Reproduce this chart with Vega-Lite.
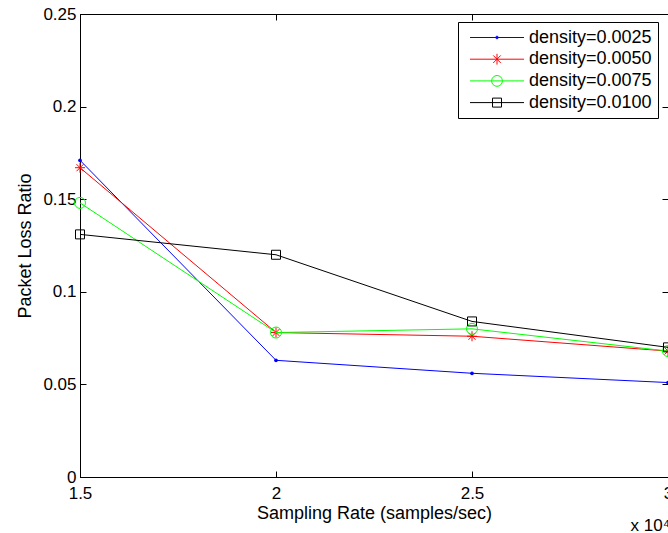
{
  "$schema": "https://vega.github.io/schema/vega-lite/v6.json",
  "width": 588,
  "height": 463,
  "autosize": {"type": "none"},
  "padding": {"left": 80, "top": 14, "right": 0, "bottom": 56},
  "background": "white",
  "data": {
    "values": [
      {"rate": 1.5, "ratio": 0.171, "series": "density=0.0025"},
      {"rate": 2.0, "ratio": 0.063, "series": "density=0.0025"},
      {"rate": 2.5, "ratio": 0.056, "series": "density=0.0025"},
      {"rate": 3.0, "ratio": 0.051, "series": "density=0.0025"},
      {"rate": 1.5, "ratio": 0.167, "series": "density=0.0050"},
      {"rate": 2.0, "ratio": 0.078, "series": "density=0.0050"},
      {"rate": 2.5, "ratio": 0.076, "series": "density=0.0050"},
      {"rate": 3.0, "ratio": 0.068, "series": "density=0.0050"},
      {"rate": 1.5, "ratio": 0.148, "series": "density=0.0075"},
      {"rate": 2.0, "ratio": 0.078, "series": "density=0.0075"},
      {"rate": 2.5, "ratio": 0.080, "series": "density=0.0075"},
      {"rate": 3.0, "ratio": 0.068, "series": "density=0.0075"},
      {"rate": 1.5, "ratio": 0.131, "series": "density=0.0100"},
      {"rate": 2.0, "ratio": 0.120, "series": "density=0.0100"},
      {"rate": 2.5, "ratio": 0.084, "series": "density=0.0100"},
      {"rate": 3.0, "ratio": 0.070, "series": "density=0.0100"}
    ]
  },
  "layer": [
    {
      "transform": [{"filter": "datum.series == 'density=0.0025'"}],
      "mark": {
        "type": "line", "color": "#0000ff", "strokeWidth": 1,
        "point": {"shape": "circle", "size": 14, "filled": true, "color": "#0000ff", "opacity": 1}
      },
      "encoding": {
        "x": {
          "field": "rate", "type": "quantitative",
          "scale": {"domain": [1.5, 3], "nice": false, "zero": false},
          "axis": {
            "orient": "bottom",
            "values": [1.5, 2, 2.5, 3],
            "format": "~g",
            "labelPadding": 14,
            "title": "Sampling Rate (samples/sec)",
            "titlePadding": 3
          }
        },
        "y": {
          "field": "ratio", "type": "quantitative",
          "scale": {"domain": [0, 0.25], "nice": false},
          "axis": {
            "orient": "left",
            "values": [0, 0.05, 0.1, 0.15, 0.2, 0.25],
            "format": "~g",
            "labelPadding": 10,
            "title": "Packet Loss Ratio",
            "titlePadding": 8
          }
        }
      }
    },
    {
      "transform": [{"filter": "datum.series == 'density=0.0050'"}],
      "mark": {
        "type": "line", "color": "#ff0000", "strokeWidth": 1,
        "point": {
          "shape": "M0,-1V1M-1,0H1M-0.7,-0.7L0.7,0.7M-0.7,0.7L0.7,-0.7",
          "size": 100, "filled": false, "color": "#ff0000", "strokeWidth": 1, "opacity": 1
        }
      },
      "encoding": {
        "x": {"field": "rate", "type": "quantitative", "axis": null},
        "y": {"field": "ratio", "type": "quantitative", "axis": null}
      }
    },
    {
      "transform": [{"filter": "datum.series == 'density=0.0075'"}],
      "mark": {
        "type": "line", "color": "#00ff00", "strokeWidth": 1,
        "point": {"shape": "circle", "size": 121, "filled": false, "color": "#00ff00", "strokeWidth": 1, "opacity": 1}
      },
      "encoding": {
        "x": {"field": "rate", "type": "quantitative", "axis": null},
        "y": {"field": "ratio", "type": "quantitative", "axis": null}
      }
    },
    {
      "transform": [{"filter": "datum.series == 'density=0.0100'"}],
      "mark": {
        "type": "line", "color": "#000000", "strokeWidth": 1,
        "point": {"shape": "square", "size": 81, "filled": false, "color": "#000000", "strokeWidth": 1, "opacity": 1}
      },
      "encoding": {
        "x": {"field": "rate", "type": "quantitative", "axis": null},
        "y": {"field": "ratio", "type": "quantitative", "axis": null}
      }
    },
    {
      "data": {"values": [{"note": "x 10⁴"}]},
      "mark": {"type": "text", "align": "right", "baseline": "alphabetic", "dx": 2, "font": "Liberation Sans", "fontSize": 17, "color": "#000000", "clip": false},
      "encoding": {
        "x": {"datum": 3, "type": "quantitative", "axis": null},
        "y": {"datum": -0.0292, "type": "quantitative", "axis": null},
        "text": {"field": "note"}
      }
    },
    {
      "transform": [{"filter": "datum.rate < 0"}],
      "mark": {"type": "point", "filled": false},
      "encoding": {
        "x": {
          "field": "rate", "type": "quantitative",
          "axis": {
            "orient": "top", "values": [1.5, 2, 2.5, 3],
            "labels": false, "title": null, "ticks": true, "tickSize": -6, "domain": true
          }
        },
        "y": {
          "field": "ratio", "type": "quantitative",
          "axis": {
            "orient": "right", "values": [0, 0.05, 0.1, 0.15, 0.2, 0.25],
            "labels": false, "title": null, "ticks": true, "tickSize": -6, "domain": true
          }
        },
        "color": {
          "field": "series", "type": "nominal",
          "scale": {
            "domain": ["density=0.0025", "density=0.0050", "density=0.0075", "density=0.0100"],
            "range": ["#0000ff", "#ff0000", "#00ff00", "#000000"]
          },
          "legend": {"orient": "none", "legendX": 378, "legendY": 8, "title": null}
        },
        "shape": {
          "field": "series", "type": "nominal",
          "scale": {
            "domain": ["density=0.0025", "density=0.0050", "density=0.0075", "density=0.0100"],
            "range": [
              "M-3,0H3M-0.15,0A0.15,0.15 0 1,0 0.15,0A0.15,0.15 0 1,0 -0.15,0",
              "M-3,0H3M0,-0.6V0.6M-0.42,-0.42L0.42,0.42M-0.42,0.42L0.42,-0.42",
              "M-3,0H3M-0.6,0A0.6,0.6 0 1,0 0.6,0A0.6,0.6 0 1,0 -0.6,0",
              "M-3,0H3M-0.5,-0.5H0.5V0.5H-0.5Z"
            ]
          },
          "legend": {"orient": "none", "legendX": 378, "legendY": 8, "title": null}
        }
      }
    }
  ],
  "resolve": {"axis": {"x": "independent", "y": "independent"}},
  "config": {
    "view": {"stroke": "#000000", "strokeWidth": 1},
    "axis": {
      "labelFont": "Liberation Sans",
      "titleFont": "Liberation Sans",
      "labelFontSize": 17,
      "titleFontSize": 18,
      "titleFontWeight": "normal",
      "labelColor": "#000000",
      "titleColor": "#000000",
      "domainColor": "#000000",
      "tickColor": "#000000",
      "tickSize": -6,
      "grid": false,
      "labelFlush": false,
      "labelOverlap": false,
      "labelBound": false
    },
    "legend": {
      "padding": 6,
      "strokeColor": "#000000",
      "fillColor": "#ffffff",
      "cornerRadius": 0,
      "labelFont": "Liberation Sans",
      "labelFontSize": 18,
      "labelColor": "#000000",
      "symbolSize": 324,
      "symbolStrokeWidth": 1,
      "symbolOpacity": 1,
      "symbolOffset": 23.5,
      "labelOffset": 22.5,
      "rowPadding": 2.7
    }
  }
}
